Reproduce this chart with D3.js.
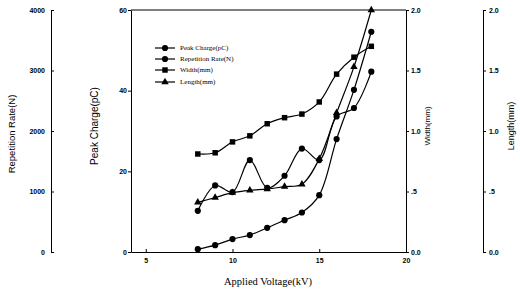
<!DOCTYPE html>
<html>
<head>
<meta charset="utf-8">
<script src="https://cdn.jsdelivr.net/npm/d3@7"></script>
<style>
  body { margin: 0; background: #fff; }
  .tk text { font-family: "Liberation Sans", Arial, sans-serif; font-size: 7px; font-weight: bold; fill: #000; }
  .tk path, .tk line { stroke: #000; stroke-width: 1; }
</style>
</head>
<body>
<div id="chart"></div>
<script>
// applied voltage (kV)
var voltage = [8, 9, 10, 11, 12, 13, 14, 15, 16, 17, 18];
// values
var peakCharge = [0.7, 1.7, 3.2, 4.2, 6.0, 7.9, 9.8, 14.1, 28.0, 40.2, 54.6];
var repRate = [680, 1100, 990, 1520, 1060, 1260, 1710, 1520, 2240, 2380, 2980];
var widthMm = [0.81, 0.82, 0.91, 0.96, 1.06, 1.11, 1.14, 1.24, 1.47, 1.61, 1.70];
var lengthMm = [0.41, 0.45, 0.49, 0.51, 0.52, 0.54, 0.56, 0.77, 1.15, 1.53, 2.0];

var xTicks = [5, 10, 15, 20];
var pcTicks = [0, 20, 40, 60];
var repTicks = [0, 1000, 2000, 3000, 4000];
var mmTicks = [0, 0.5, 1, 1.5, 2];
var mmLabels = ["0.0", ".5", "1.0", "1.5", "2.0"];

var W = 520, H = 295;
// plot frame (window.top is read-only, so no bare "top")
var frame = {l: 131, r: 406, t: 10, b: 252};

var svg = d3.select("#chart").append("svg")
    .attr("width", W)
    .attr("height", H);

var x = d3.scaleLinear().domain([4.15, 20]).range([frame.l, frame.r]);
var yPC = d3.scaleLinear().domain([0, 60]).range([frame.b, frame.t]);
var yRep = d3.scaleLinear().domain([0, 4000]).range([frame.b, frame.t]);
var yMm = d3.scaleLinear().domain([0, 2]).range([frame.b, frame.t]);

function mmFormat(d) { return mmLabels[mmTicks.indexOf(d)]; }

// frame top line
svg.append("line")
    .attr("x1", frame.l).attr("x2", frame.r)
    .attr("y1", frame.t).attr("y2", frame.t)
    .attr("stroke", "#000").attr("stroke-width", 1.2);

// x axis (ticks inside)
svg.append("g")
    .attr("class", "tk")
    .attr("transform", "translate(0," + frame.b + ")")
    .call(d3.axisBottom(x).tickValues(xTicks).tickSizeInner(-3).tickSizeOuter(0).tickPadding(6))
    .select(".domain").attr("stroke-width", 1.2);

// peak charge axis
svg.append("g")
    .attr("class", "tk")
    .attr("transform", "translate(" + frame.l + ",0)")
    .call(d3.axisLeft(yPC).tickValues(pcTicks).tickSizeInner(3).tickSizeOuter(0).tickPadding(1))
    .select(".domain").attr("stroke-width", 1.2);

// width axis (right side of the frame)
svg.append("g")
    .attr("class", "tk")
    .attr("transform", "translate(" + frame.r + ",0)")
    .call(d3.axisRight(yMm).tickValues(mmTicks).tickFormat(mmFormat).tickSizeInner(3).tickSizeOuter(0).tickPadding(2))
    .select(".domain").attr("stroke-width", 1.2);

// repetition rate axis (far left)
svg.append("g")
    .attr("class", "tk")
    .attr("transform", "translate(51,0)")
    .call(d3.axisLeft(yRep).tickValues(repTicks).tickFormat(d3.format("d")).tickSizeInner(-3).tickSizeOuter(0).tickPadding(6));

// length axis (far right)
svg.append("g")
    .attr("class", "tk")
    .attr("transform", "translate(483,0)")
    .call(d3.axisRight(yMm).tickValues(mmTicks).tickFormat(mmFormat).tickSizeInner(3).tickSizeOuter(0).tickPadding(3));

// axis titles
function vLabel(tx, ty, txt, size) {
  svg.append("text")
    .attr("transform", "translate(" + tx + "," + ty + ") rotate(-90)")
    .attr("text-anchor", "middle")
    .attr("font-family", "Liberation Sans, Arial, sans-serif")
    .attr("font-size", size)
    .text(txt);
}
vLabel(15, 134, "Repetition Rate(N)", 9.5);
vLabel(98, 126, "Peak Charge(pC)", 10);
vLabel(430, 126, "Width(mm)", 8);
vLabel(514, 126, "Length(mm)", 9);

svg.append("text")
    .attr("x", 268).attr("y", 285)
    .attr("text-anchor", "middle")
    .attr("font-family", "Liberation Serif, Times New Roman, serif")
    .attr("font-size", 10.5)
    .text("Applied Voltage(kV)");

// series
var series = [
  {name: "Peak Charge(pC)", vals: peakCharge, y: yPC, mark: "circle"},
  {name: "Repetition Rate(N)", vals: repRate, y: yRep, mark: "circle"},
  {name: "Width(mm)", vals: widthMm, y: yMm, mark: "square"},
  {name: "Length(mm)", vals: lengthMm, y: yMm, mark: "triangle"}
];

var symbolType = {circle: d3.symbolCircle, square: d3.symbolSquare, triangle: d3.symbolTriangle};
var symbolSize = {circle: 30, square: 30, triangle: 24};

series.forEach(function(s) {
  var pts = voltage.map(function(v, i) { return [x(v), s.y(s.vals[i])]; });
  svg.append("path")
      .attr("d", d3.line().curve(d3.curveCatmullRom.alpha(0.5))(pts))
      .attr("fill", "none")
      .attr("stroke", "#000")
      .attr("stroke-width", 1.2);
  svg.append("g").selectAll("path")
    .data(pts)
    .enter().append("path")
      .attr("transform", function(p) { return "translate(" + p[0] + "," + p[1] + ")"; })
      .attr("d", d3.symbol().type(symbolType[s.mark]).size(symbolSize[s.mark]))
      .attr("fill", "#000");
});

// legend
var legend = svg.append("g")
  .selectAll("g")
  .data(series)
  .enter().append("g")
    .attr("transform", function(d, i) { return "translate(155," + [48, 59, 70, 82][i] + ")"; });

legend.append("line")
    .attr("x1", 0).attr("x2", 20)
    .attr("stroke", "#000").attr("stroke-width", 1.2);

legend.append("path")
    .attr("transform", "translate(10,0)")
    .attr("d", function(d) { return d3.symbol().type(symbolType[d.mark]).size(symbolSize[d.mark])(); })
    .attr("fill", "#000");

legend.append("text")
    .attr("x", 25)
    .attr("dy", "0.32em")
    .attr("font-family", "Liberation Serif, Times New Roman, serif")
    .attr("font-size", 7)
    .text(function(d) { return d.name; });
</script>
</body>
</html>
